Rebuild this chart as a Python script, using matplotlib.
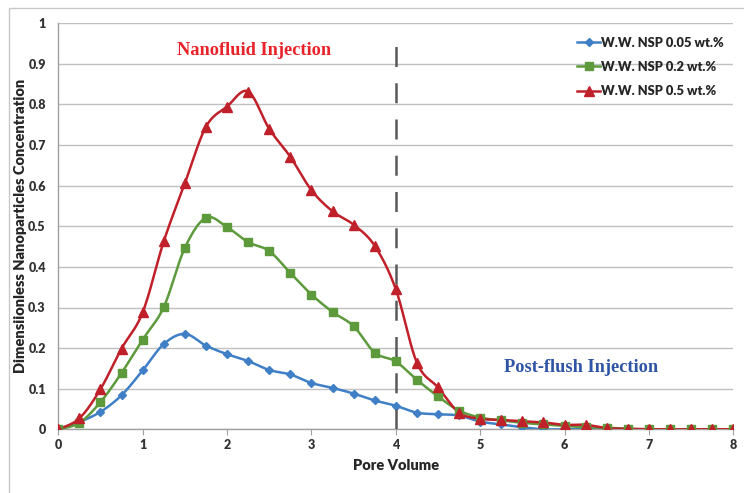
import numpy as np
import matplotlib
matplotlib.use("Agg")
import matplotlib.pyplot as plt
from matplotlib.patches import Rectangle

# ---------------- data ----------------
pore_volume = [0, 0.25, 0.5, 0.75, 1.0, 1.25, 1.5, 1.75, 2.0, 2.25, 2.5, 2.75, 3.0, 3.25,
               3.5, 3.75, 4.0, 4.25, 4.5, 4.75, 5.0, 5.25, 5.5, 5.75, 6.0, 6.25, 6.5, 6.75,
               7.0, 7.25, 7.5, 7.75, 8.0]

nsp_005 = [0, 0.018, 0.043, 0.084, 0.145, 0.210, 0.235, 0.206, 0.185, 0.168, 0.146, 0.135,
           0.114, 0.102, 0.088, 0.071, 0.058, 0.041, 0.037, 0.034, 0.019, 0.012, 0.005, 0.0,
           0.0, 0.0, 0.0, 0.0, 0.0, 0.0, 0.0, 0.0, 0.0]

nsp_02 = [0, 0.016, 0.067, 0.139, 0.221, 0.301, 0.447, 0.521, 0.498, 0.461, 0.439, 0.385,
          0.332, 0.289, 0.254, 0.189, 0.167, 0.122, 0.081, 0.046, 0.029, 0.022, 0.016, 0.012,
          0.008, 0.005, 0.004, 0.001, 0.0, 0.0, 0.0, 0.0, 0.0]

nsp_05 = [0, 0.027, 0.099, 0.199, 0.288, 0.463, 0.606, 0.745, 0.795, 0.832, 0.740, 0.671,
          0.589, 0.537, 0.504, 0.452, 0.345, 0.164, 0.103, 0.041, 0.026, 0.023, 0.020, 0.017,
          0.011, 0.011, 0.003, 0.001, 0.0, 0.0, 0.0, 0.0, 0.0]

series_labels = ["W.W. NSP 0.05 wt.%", "W.W. NSP 0.2 wt.%", "W.W. NSP 0.5 wt.%"]
x_ticks = [0, 1, 2, 3, 4, 5, 6, 7, 8]
y_ticks = [0, 0.1, 0.2, 0.3, 0.4, 0.5, 0.6, 0.7, 0.8, 0.9, 1.0]
y_tick_labels = ["0", "0.1", "0.2", "0.3", "0.4", "0.5", "0.6", "0.7", "0.8", "0.9", "1"]
injection_switch = 4


def smooth(x, y, n=20):
    """Excel-like smoothed line (Catmull-Rom Bezier) through the data points."""
    x = np.asarray(x, float)
    y = np.asarray(y, float)
    P = np.column_stack([x, y])
    out = [P[0]]
    t = np.linspace(0, 1, n + 1)[1:]
    for i in range(len(P) - 1):
        p0 = P[i - 1] if i > 0 else P[i]
        p1 = P[i]
        p2 = P[i + 1]
        p3 = P[i + 2] if i + 2 < len(P) else P[i + 1]
        c1 = p1 + (p2 - p0) / 6.0
        c2 = p2 - (p3 - p1) / 6.0
        for tt in t:
            b = ((1 - tt) ** 3) * p1 + 3 * ((1 - tt) ** 2) * tt * c1 + 3 * (1 - tt) * tt ** 2 * c2 + tt ** 3 * p2
            out.append(b)
    out = np.array(out)
    return out[:, 0], out[:, 1]


W, H = 744, 493
fig = plt.figure(figsize=(W / 100, H / 100), dpi=100)
fig.patch.set_facecolor("white")

# outer chart border
fig.add_artist(Rectangle((9 / W, -0.2), 2.0, 1 - 8 / H + 0.2, transform=fig.transFigure,
                         fill=False, edgecolor="#c8c8c8", linewidth=1.0))

left, right = 58.3 / W, 733.3 / W
bottom, top = 1 - 429.3 / H, 1 - 23.3 / H
ax = fig.add_axes([left, bottom, right - left, top - bottom])

SANS = ["Lato", "DejaVu Sans"]
tick_font = dict(family=SANS, weight=800, size=9)

colors = ["#3f7fc6", "#5c9a3c", "#c0202a"]
markers = ["D", "s", "^"]
msizes = [4.2, 6.0, 6.5]
series = [nsp_005, nsp_02, nsp_05]

for yv, c, m, ms, lab in zip(series, colors, markers, msizes, series_labels):
    sx, sy = smooth(pore_volume, yv)
    ax.plot(sx, sy, color=c, lw=1.8, zorder=3, solid_capstyle="round")
    ax.plot(pore_volume, yv, linestyle="none", marker=m, ms=ms, color=c, zorder=4)
    ax.plot([], [], color=c, lw=1.8, marker=m, ms=ms, label=lab)

ax.axvline(injection_switch, ymin=0, ymax=0.966, color="#595959", lw=1.8,
           dashes=(8, 6.5), zorder=5)

ax.set_xlim(0, 8)
ax.set_ylim(0, 1)
ax.set_xticks(x_ticks)
ax.set_xticklabels([str(v) for v in x_ticks], **tick_font, color="#333333")
ax.set_yticks(y_ticks)
ax.set_yticklabels(y_tick_labels, **tick_font, color="#333333")
ax.tick_params(axis="x", direction="out", length=4, width=0.8, color="#a0a0a0", pad=3)
ax.tick_params(axis="y", length=0, pad=9)
ax.grid(axis="y", color="#c0c0c0", lw=1.0)
ax.set_axisbelow(True)
for s in ["top", "right"]:
    ax.spines[s].set_visible(False)
for s in ["left", "bottom"]:
    ax.spines[s].set_color("#a0a0a0")
    ax.spines[s].set_linewidth(1.0)

ax.set_xlabel("Pore Volume", family=SANS, weight=800, size=10.5,
              color="#262626", labelpad=6)
ax.set_ylabel("Dimensiionless Nanoparticles Concentration", family=SANS,
              weight=800, size=10.5, color="#262626")
ax.yaxis.set_label_coords(-0.047, 0.5)

ax.text(2.32, 0.934, "Nanofluid Injection", family=["Liberation Serif"], weight="bold",
        size=13.2, color="#e8232a", ha="center", va="center")
ax.text(6.19, 0.152, "Post-flush Injection", family=["Liberation Serif"], weight="bold",
        size=13.2, color="#2e54a5", ha="center", va="center")

leg = ax.legend(loc="upper right", bbox_to_anchor=(0.994, 0.98), frameon=False,
                prop=dict(family=SANS, weight=800, size=9.3),
                handlelength=1.75, handletextpad=0.1, labelspacing=0.95,
                borderaxespad=0)
for t in leg.get_texts():
    t.set_color("#262626")

fig.savefig("out.png", dpi=100, facecolor="white")
